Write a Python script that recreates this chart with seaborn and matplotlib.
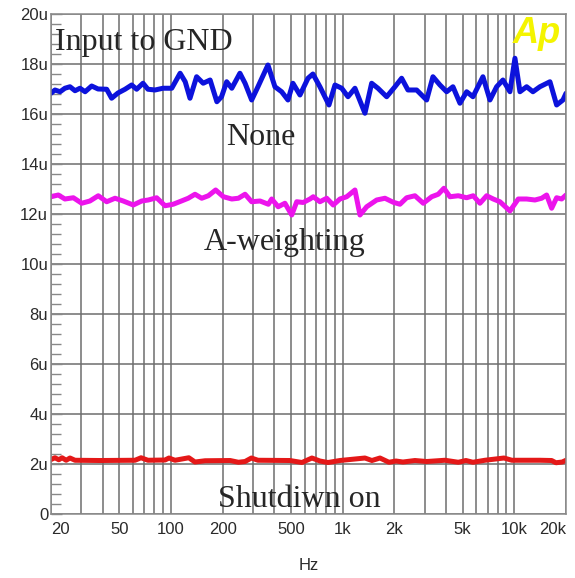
import numpy as np
import pandas as pd
import matplotlib
matplotlib.use('Agg')
import matplotlib.pyplot as plt
from matplotlib.ticker import FixedLocator, LogLocator, NullFormatter, MultipleLocator
import seaborn as sns

# =========================
# DATA
# =========================

# "None" weighting, input to GND
none_hz = [20, 21.1, 22.6, 24.1, 25.8, 27.6, 29.5, 31.6, 34.5, 37.6,
           42.2, 45.1, 49.1, 54.0, 59.0, 63.1, 68.7, 73.4, 80.7, 89.8,
           101, 113, 121, 129, 141, 154, 169, 185, 197, 211,
           226, 252, 270, 295, 321, 367, 403, 441, 480, 513,
           564, 628, 671, 737, 832, 902, 987, 1074, 1179, 1348,
           1475, 1605, 1804, 2016, 2205, 2400, 2697, 3084, 3356, 3687,
           4033, 4389, 4821, 5274, 5739, 6561, 7208, 7886, 8582, 9426,
           10080, 10780, 11790, 12830, 14090, 16120, 17630, 19190, 20000]
none_u = [16.83, 16.96, 16.89, 17.03, 17.09, 16.93, 17.03, 16.89, 17.12, 17.0,
          16.99, 16.63, 16.84, 16.99, 17.16, 16.99, 17.23, 16.99, 16.96, 17.03,
          17.03, 17.63, 17.29, 16.63, 17.49, 17.23, 17.36, 16.49, 16.69, 17.29,
          17.03, 17.63, 17.23, 16.56, 17.09, 17.96, 17.09, 16.89, 16.56, 17.23,
          16.76, 17.43, 17.6, 17.09, 16.36, 17.16, 17.03, 16.69, 17.03, 16.03,
          17.23, 17.03, 16.69, 17.09, 17.43, 16.96, 16.96, 16.56, 17.49, 17.16,
          16.89, 17.09, 16.43, 16.89, 16.69, 17.49, 16.56, 17.09, 17.36, 16.89,
          18.23, 16.89, 17.09, 16.89, 17.09, 17.29, 16.36, 16.56, 16.83]

# A-weighting
aw_hz = [20, 22.05, 24.1, 27.0, 30.2, 33.7, 37.7, 42.2, 47.2, 52.7,
         60.3, 67.5, 73.7, 82.5, 92.3, 103, 115, 126, 138, 151,
         165, 182, 202, 226, 247, 270, 295, 330, 369, 386,
         421, 461, 505, 540, 589, 645, 674, 737, 807, 881,
         964, 1055, 1179, 1261, 1380, 1578, 1763, 1970, 2156, 2359,
         2636, 2947, 3299, 3604, 3890, 4216, 4713, 5274, 5762, 6303,
         6896, 7534, 8243, 9426, 10540, 11790, 13180, 14420, 15420, 16490,
         17630, 18860, 20000]
aw_u = [12.69, 12.76, 12.6, 12.65, 12.43, 12.52, 12.73, 12.49, 12.63, 12.52,
        12.36, 12.52, 12.56, 12.65, 12.33, 12.39, 12.52, 12.63, 12.79, 12.63,
        12.73, 12.96, 12.69, 12.6, 12.63, 12.79, 12.49, 12.52, 12.39, 12.6,
        12.29, 12.43, 11.96, 12.49, 12.46, 12.6, 12.69, 12.49, 12.63, 12.36,
        12.6, 12.69, 12.96, 11.96, 12.29, 12.56, 12.63, 12.47, 12.39, 12.65,
        12.73, 12.43, 12.69, 12.79, 13.03, 12.69, 12.73, 12.65, 12.73, 12.43,
        12.73, 12.6, 12.49, 12.12, 12.6, 12.6, 12.56, 12.63, 12.76, 12.23,
        12.65, 12.6, 12.76]

# Shutdown on
sd_hz = [20, 21.1, 22.2, 23.2, 24.5, 25.8, 27.6, 38.6, 61.7, 66.9,
         73.4, 92.3, 97.3, 105.5, 127, 138, 158, 221, 247, 270,
         294, 321, 493, 579, 662, 737, 821, 964, 1348, 1480,
         1649, 1860, 2043, 2244, 2636, 3084, 3942, 4713, 5224, 5739,
         6741, 8698, 9680, 14090, 16490, 17470, 19000, 20000]
sd_u = [2.18, 2.25, 2.17, 2.25, 2.15, 2.24, 2.15, 2.14, 2.15, 2.25,
        2.15, 2.16, 2.24, 2.15, 2.25, 2.08, 2.13, 2.14, 2.07, 2.1,
        2.24, 2.15, 2.14, 2.06, 2.24, 2.12, 2.06, 2.14, 2.24, 2.14,
        2.24, 2.07, 2.12, 2.08, 2.14, 2.1, 2.15, 2.07, 2.14, 2.07,
        2.15, 2.24, 2.15, 2.15, 2.14, 2.05, 2.08, 2.15]

x_ticks = [20, 50, 100, 200, 500, 1000, 2000, 5000, 10000, 20000]
x_labels = ['20', '50', '100', '200', '500', '1k', '2k', '5k', '10k', '20k']
y_ticks = [0, 2, 4, 6, 8, 10, 12, 14, 16, 18, 20]
y_labels = ['0', '2u', '4u', '6u', '8u', '10u', '12u', '14u', '16u', '18u', '20u']

series = [
    ('None', none_hz, none_u, '#0c12dc'),
    ('A-weighting', aw_hz, aw_u, '#ec14ec'),
    ('Shutdown', sd_hz, sd_u, '#e41818'),
]

# =========================
# PLOT
# =========================

sns.set_style('white')
plt.rcParams['font.family'] = ['Liberation Sans', 'DejaVu Sans']

fig = plt.figure(figsize=(5.75, 5.78), dpi=100)
ax = fig.add_axes([0.0887, 0.1107, 0.8957, 0.8651])

for name, hz, u, col in series:
    df = pd.DataFrame({'Hz': hz, 'u': u})
    sns.lineplot(data=df, x='Hz', y='u', color=col, linewidth=3.6,
                 estimator=None, ax=ax, solid_joinstyle='round')

ax.set_xscale('log')
ax.set_xlim(20, 20000)
ax.set_ylim(0, 20)

# grid: every 1-2-3..9 on x, every 2u on y
ax.xaxis.set_major_locator(FixedLocator(x_ticks))
ax.xaxis.set_minor_locator(LogLocator(base=10, subs=np.arange(1, 10)))
ax.xaxis.set_minor_formatter(NullFormatter())
ax.set_xticklabels(x_labels)
ax.yaxis.set_major_locator(FixedLocator(y_ticks))
ax.yaxis.set_minor_locator(MultipleLocator(0.4))
ax.set_yticklabels(y_labels)

ax.grid(which='both', axis='x', color='#6e6e6e', linewidth=1.1)
ax.grid(which='major', axis='y', color='#6e6e6e', linewidth=1.1)
ax.set_axisbelow(True)

ax.tick_params(axis='x', which='both', length=0, pad=6,
               labelsize=12, labelcolor='#2a2a2a')
ax.tick_params(axis='y', which='major', direction='in', length=8,
               width=1, color='#888888', pad=2, labelsize=12,
               labelcolor='#2a2a2a', left=True)
ax.tick_params(axis='y', which='minor', direction='in', length=7,
               width=1, color='#888888', left=True)

labels = ax.get_xticklabels()
labels[0].set_ha('left')
labels[-1].set_ha('right')

for side in ['left', 'right', 'top', 'bottom']:
    ax.spines[side].set_color('#8a8a8a')
    ax.spines[side].set_linewidth(1.1)

ax.set_xlabel('Hz', fontsize=12, color='#2a2a2a', labelpad=15)
ax.set_ylabel('')

# curve names, Times-like
serif = ['Liberation Serif', 'DejaVu Serif']
ax.text(0.008, 0.928, 'Input to GND', transform=ax.transAxes,
        family=serif, fontsize=23, ha='left', va='baseline')
ax.text(0.408, 0.738, 'None', transform=ax.transAxes,
        family=serif, fontsize=23, ha='center', va='baseline')
ax.text(0.454, 0.528, 'A-weighting', transform=ax.transAxes,
        family=serif, fontsize=23, ha='center', va='baseline')
ax.text(0.483, 0.014, 'Shutdiwn on', transform=ax.transAxes,
        family=serif, fontsize=23, ha='center', va='baseline')

# Audio Precision logo
ax.text(0.99, 0.942, 'Ap', transform=ax.transAxes, fontsize=26,
        fontweight='bold', fontstyle='italic', color='#f4f400',
        ha='right', va='baseline')

fig.savefig('out.png', dpi=100, facecolor='white')
